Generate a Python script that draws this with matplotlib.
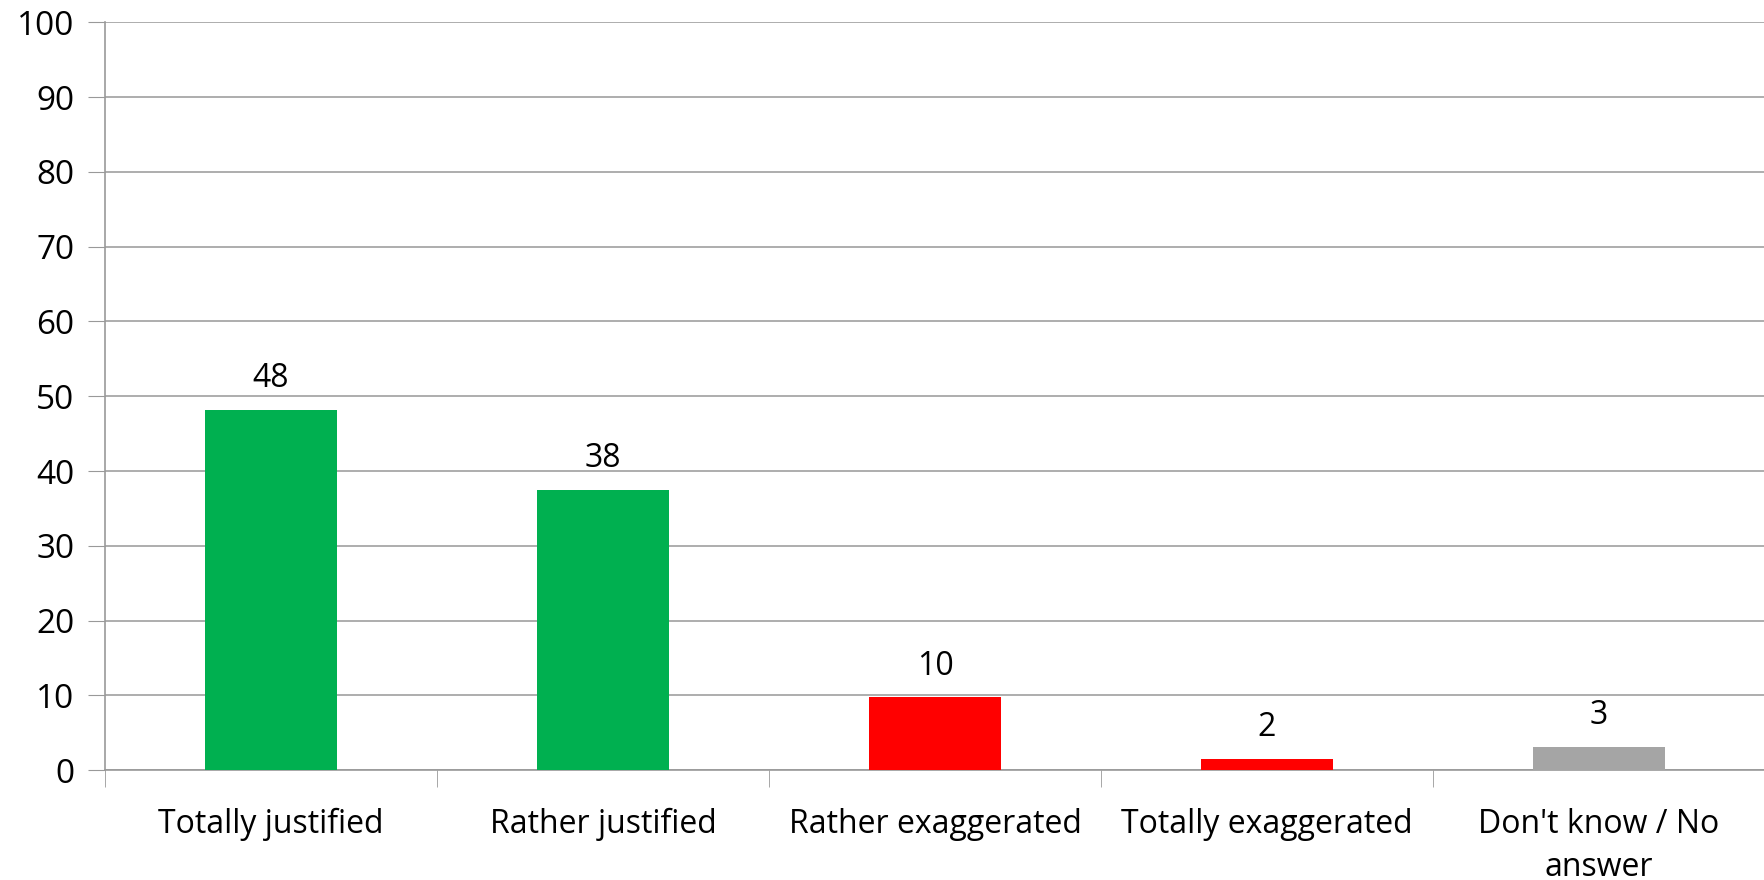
import matplotlib
matplotlib.use('Agg')
import matplotlib.pyplot as plt
import numpy as np

categories = ['Totally justified', 'Rather justified', 'Rather exaggerated',
              'Totally exaggerated', "Don't know / No\nanswer"]
values = [48.2, 37.4, 9.7, 1.5, 3.1]
labels = ['48', '38', '10', '2', '3']
colors = ['#00B050', '#00B050', '#FF0000', '#FF0000', '#A5A5A5']

plt.rcParams['font.family'] = ['Open Sans', 'DejaVu Sans']

fig = plt.figure(figsize=(17.65, 8.8), dpi=100)
ax = fig.add_axes([105/1765, 110/880, 1 - 105/1765, (770 - 22.5)/880])

x = np.arange(len(categories))
bars = ax.bar(x, values, width=0.4, color=colors, zorder=3)
for xi, v, lab in zip(x, values, labels):
    ax.text(xi, v + 2.0, lab, ha='center', va='bottom', fontsize=23)

ax.set_xlim(-0.5, len(categories) - 0.5)
ax.set_ylim(0, 100)
ax.set_yticks(range(0, 101, 10))
ax.tick_params(axis='y', labelsize=24, length=12, color='#999999', pad=10)
ax.grid(axis='y', color='#A0A0A0', linewidth=1.2, zorder=0)

ax.set_xticks(x)
ax.set_xticklabels(categories, fontsize=23, linespacing=1.4)
ax.tick_params(axis='x', length=0, pad=27)
ax.set_xticks(np.arange(-0.5, len(categories), 1), minor=True)
ax.tick_params(axis='x', which='minor', length=12, color='#999999')

for s in ['top', 'right']:
    ax.spines[s].set_visible(False)
for s in ['left', 'bottom']:
    ax.spines[s].set_color('#999999')
    ax.spines[s].set_linewidth(1.2)

fig.savefig('out.png', dpi=100)
